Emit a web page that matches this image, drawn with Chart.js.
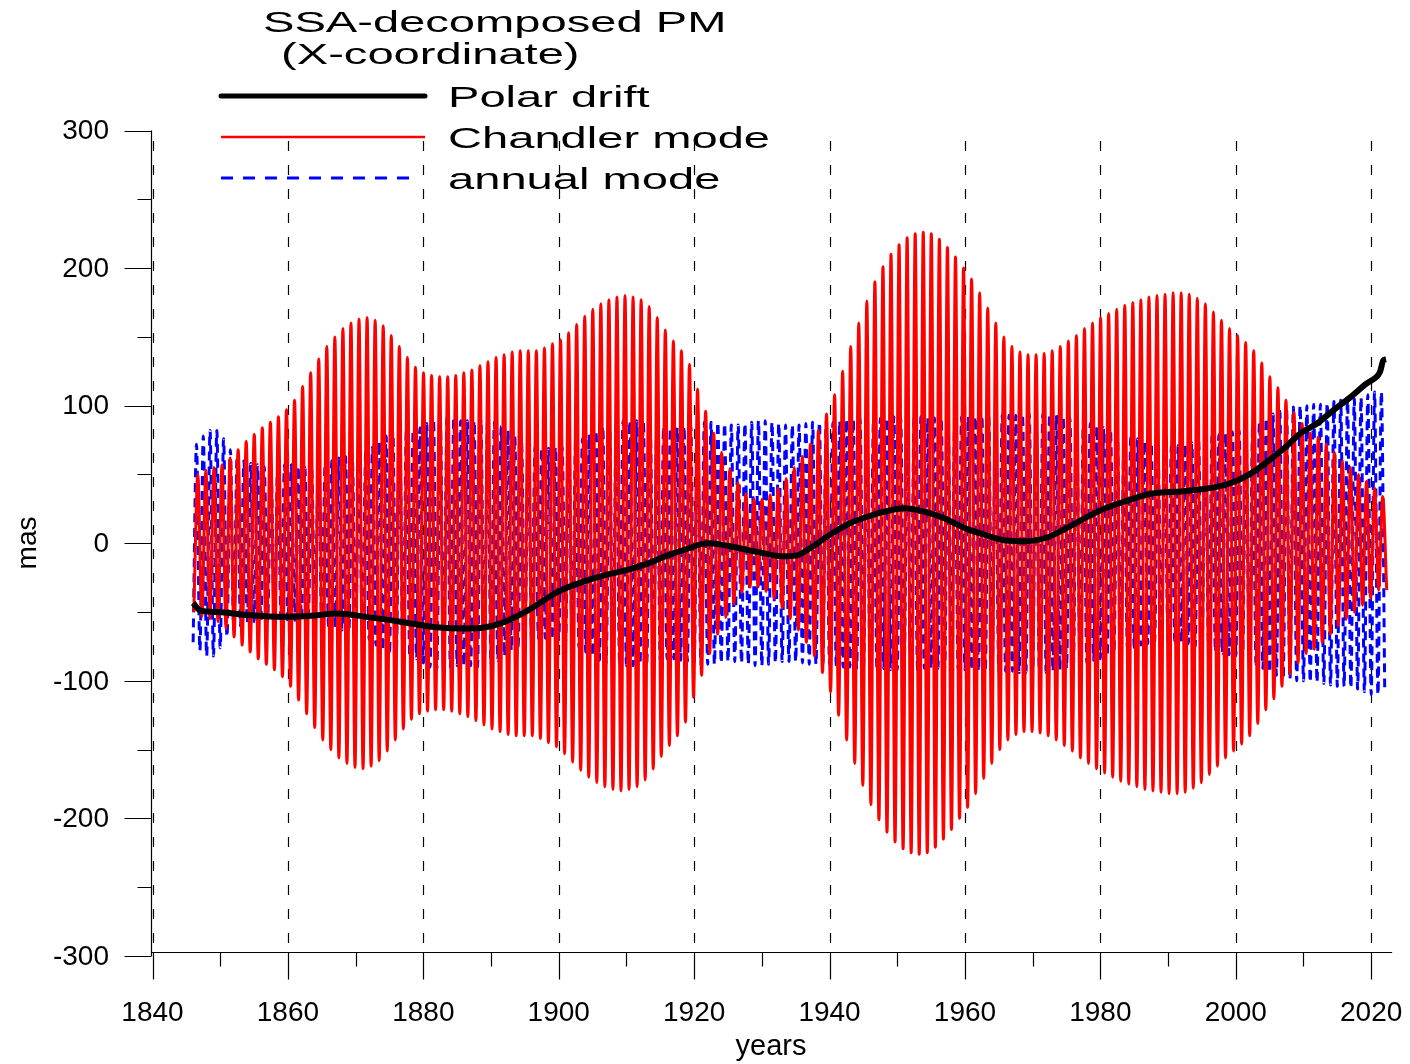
<!DOCTYPE html>
<html>
<head>
<meta charset="utf-8">
<script src="https://cdn.jsdelivr.net/npm/chart.js@4.4.1/dist/chart.umd.min.js"></script>
<style>
  html, body { margin: 0; padding: 0; background: #fff; }
  canvas { display: block; }
</style>
</head>
<body>
<canvas id="pm" width="1410" height="1064"></canvas>
<script>
// ── Eixos ────────────────────────────────────────────────────
const xTicks      = [1840, 1860, 1880, 1900, 1920, 1940, 1960, 1980, 2000, 2020];
const xMinorTicks = [1850, 1870, 1890, 1910, 1930, 1950, 1970, 1990, 2010];
const yTicks      = [-300, -200, -100, 0, 100, 200, 300];
const yMinorTicks = [-250, -150, -50, 50, 150, 250];

const titleLines = ['SSA-decomposed PM', ' (X-coordinate)'];

// ── Polar drift (anos, mas) ──────────────────────────────────
const driftYears = [1846.0, 1847.0, 1849.5, 1854.4, 1859.3, 1864.3, 1867.2, 1871.6, 1876.6, 1881.5,
                    1886.4, 1888.9, 1891.3, 1895.0, 1900.0, 1903.0, 1907.0, 1910.0, 1913.0, 1916.0,
                    1919.0, 1922.0, 1924.0, 1927.0, 1930.0, 1933.0, 1935.0, 1937.0, 1940.0, 1943.0,
                    1946.0, 1949.0, 1951.0, 1954.0, 1957.0, 1960.0, 1963.0, 1966.0, 1969.0, 1972.0,
                    1975.0, 1978.0, 1981.0, 1984.0, 1987.4, 1992.3, 1997.2, 1999.7, 2002.2, 2004.6,
                    2007.1, 2009.5, 2012.0, 2014.4, 2016.9, 2019.3, 2020.8, 2021.3, 2021.8, 2022.2];
const driftMas   = [-43.4, -48.7, -50.0, -52.3, -53.5, -52.3, -51.0, -53.5, -57.0, -60.8,
                    -62.0, -61.3, -58.4, -50.0, -35.0, -29.0, -23.0, -19.6, -15.0, -9.0,
                    -4.0, 0.0, -1.0, -4.0, -7.0, -9.5, -9.0, -4.0, 6.0, 14.5,
                    20.0, 24.0, 25.4, 23.0, 18.0, 11.0, 6.0, 2.0, 1.5, 4.0,
                    11.0, 19.0, 26.0, 31.0, 36.0, 37.8, 41.0, 44.5, 50.6, 59.0,
                    68.8, 79.7, 87.0, 96.6, 106.0, 116.0, 121.0, 124.5, 133.0, 133.7];

// ── Chandler mode: amplitude (mas) de cada ciclo ─────────────
// primeiro mínimo em 1846.1, período ~1.19 ano
const chandlerStart  = 1846.1;
const chandlerPeriod = 1.1905;
const chandlerAmp = [
   50,  53,  55,  57,  62,  68,  74,  79,  84,  88,
   92,  97, 104, 114, 124, 134, 143, 150, 156, 160,
  163, 164, 162, 158, 151, 143, 135, 128, 124, 122,
  121, 121, 122, 124, 126, 129, 132, 135, 137, 139,
  140, 140, 140, 142, 145, 148, 153, 159, 165, 170,
  174, 177, 179, 180, 179, 177, 172, 164, 155, 147,
  140, 130, 112,  96,  80,  66,  54,  44,  36,  32,
   32,  35,  40,  47,  55,  63,  72,  82,  94, 108,
  125, 143, 160, 176, 190, 201, 210, 217, 222, 225,
  226, 225, 221, 215, 208, 200, 192, 182, 171, 160,
  150, 143, 139, 137, 137, 138, 140, 143, 147, 151,
  156, 160, 164, 167, 170, 173, 175, 177, 179, 180,
  181, 182, 182, 181, 178, 174, 168, 162, 156, 151,
  146, 140, 131, 121, 113, 104,  95,  87,  80,  77,
   72,  66,  60,  55,  50,  45,  40,  34,  34
];

// ── annual mode: amplitude (mas) por ano, 1846–2022 ──────────
const annualStart  = 1846.0;
const annualPeriod = 1.0;
const annualAmp = [
   72,  78,  82,  82,  76,  68,  63,  60,  58,  57,
   56,  56,  56,  57,  57,  56,  55,  54,  55,  57,
   60,  62,  63,  64,  65,  67,  70,  74,  78,  81,
   82,  82,  82,  84,  87,  90,  91,  91,  90,  89,
   89,  89,  90,  90,  88,  85,  82,  78,  75,  72,
   70,  69,  69,  70,  70,  72,  74,  76,  79,  82,
   85,  87,  88,  89,  89,  89,  88,  87,  86,  85,
   84,  84,  85,  86,  87,  88,  88,  88,  87,  86,
   86,  87,  88,  89,  89,  88,  87,  86,  86,  86,
   87,  88,  88,  88,  88,  89,  90,  90,  91,  91,
   91,  91,  91,  92,  92,  92,  92,  92,  91,  91,
   91,  91,  91,  92,  92,  92,  93,  93,  93,  93,
   93,  93,  94,  94,  94,  94,  94,  93,  92,  91,
   90,  89,  87,  85,  84,  82,  80,  78,  77,  76,
   74,  73,  72,  71,  71,  71,  72,  73,  75,  77,
   78,  79,  80,  81,  82,  83,  85,  88,  91,  94,
   96,  98,  99, 100, 100, 101, 101, 102, 103, 104,
  104, 105, 106, 108, 110, 110, 106
];

// mínimos e máximos alternados: dois extremos por ciclo
function extremos(start, period, amps, count) {
  const pts = [];
  for (let j = 0; j < count; j++) {
    const a = amps[Math.min(Math.floor(j / 2), amps.length - 1)];
    pts.push({ x: start + j * period / 2, y: j % 2 === 0 ? -a : a });
  }
  return pts;
}

const chandlerPts = extremos(chandlerStart, chandlerPeriod, chandlerAmp, chandlerAmp.length * 2 - 1);
const annualPts   = extremos(annualStart, annualPeriod, annualAmp, annualAmp.length * 2 - 1);
const driftPts    = driftYears.map((x, i) => ({ x, y: driftMas[i] }));

const FONT = '"Liberation Sans", Arial, sans-serif';
const STRETCH = 1.57;   // texto do título/legenda é largo

function textoLargo(ctx, txt, x, y, size) {
  ctx.save();
  ctx.translate(x, y);
  ctx.scale(STRETCH, 1);
  ctx.font = size + 'px ' + FONT;
  ctx.fillStyle = '#000';
  ctx.textBaseline = 'alphabetic';
  ctx.textAlign = 'left';
  ctx.fillText(txt, 0, 0);
  ctx.restore();
}

// título, legenda e grade tracejada (atrás das séries)
const fundoPlugin = {
  id: 'fundo',
  beforeDraw(chart) {
    const { ctx } = chart;
    ctx.save();
    ctx.fillStyle = '#fff';
    ctx.fillRect(0, 0, chart.width, chart.height);
    ctx.restore();
  },
  beforeDatasetsDraw(chart) {
    const { ctx, scales: { x, y } } = chart;
    const base = y.getPixelForValue(-300) - 3.5;

    textoLargo(ctx, titleLines[0], 263, 32, 30);
    textoLargo(ctx, titleLines[1], 268, 64, 30);

    const legendY = [96, 137, 178];
    const legendTxtY = [107, 148, 189];
    chart.data.datasets.forEach((ds, i) => {
      ctx.save();
      ctx.strokeStyle = ds.borderColor;
      ctx.lineWidth = ds.legendWidth;
      ctx.lineCap = i === 0 ? 'round' : 'butt';
      ctx.setLineDash(ds.borderDash ? [12, 10] : []);
      ctx.beginPath();
      ctx.moveTo(221, legendY[i]);
      ctx.lineTo(i === 2 ? 416 : 425, legendY[i]);
      ctx.stroke();
      ctx.restore();
      textoLargo(ctx, ds.label, 448, legendTxtY[i], 30);
    });

    ctx.save();
    ctx.strokeStyle = '#000';
    ctx.lineWidth = 1.2;
    ctx.setLineDash([10, 14]);
    xTicks.forEach(v => {
      const px = Math.round(x.getPixelForValue(v)) + 0.5;
      ctx.beginPath();
      ctx.moveTo(px, 141);
      ctx.lineTo(px, base);
      ctx.stroke();
    });
    ctx.restore();
  },
  // eixos, marcas e rótulos
  afterDatasetsDraw(chart) {
    const { ctx, scales: { x, y } } = chart;
    const axisX = Math.round(x.getPixelForValue(1840)) - 1.5;
    const base  = Math.round(y.getPixelForValue(-300)) - 3.5;
    const right = x.getPixelForValue(2023.1);

    ctx.save();
    ctx.strokeStyle = '#000';
    ctx.lineWidth = 1.2;
    ctx.beginPath();
    ctx.moveTo(axisX, y.getPixelForValue(300));
    ctx.lineTo(axisX, y.getPixelForValue(-300));
    ctx.moveTo(axisX, base);
    ctx.lineTo(right, base);
    yTicks.forEach(v => {
      const py = Math.round(y.getPixelForValue(v)) + 0.5;
      ctx.moveTo(axisX - 27, py);
      ctx.lineTo(axisX, py);
    });
    yMinorTicks.forEach(v => {
      const py = Math.round(y.getPixelForValue(v)) + 0.5;
      ctx.moveTo(axisX - 14, py);
      ctx.lineTo(axisX, py);
    });
    xTicks.forEach(v => {
      const px = Math.round(x.getPixelForValue(v)) + 0.5;
      ctx.moveTo(px, base);
      ctx.lineTo(px, base + 27);
    });
    xMinorTicks.forEach(v => {
      const px = Math.round(x.getPixelForValue(v)) + 0.5;
      ctx.moveTo(px, base);
      ctx.lineTo(px, base + 14);
    });
    ctx.stroke();

    ctx.fillStyle = '#000';
    ctx.font = '28px ' + FONT;
    ctx.textAlign = 'center';
    ctx.textBaseline = 'alphabetic';
    xTicks.forEach(v => ctx.fillText(String(v), x.getPixelForValue(v), 1021));

    ctx.textAlign = 'right';
    ctx.textBaseline = 'middle';
    yTicks.forEach(v => ctx.fillText(String(v), 109, y.getPixelForValue(v) + 1));

    ctx.font = '29px ' + FONT;
    ctx.textAlign = 'center';
    ctx.textBaseline = 'alphabetic';
    ctx.fillText('years', 771, 1055);

    ctx.translate(36, 543);
    ctx.rotate(-Math.PI / 2);
    ctx.font = '28px ' + FONT;
    ctx.fillText('mas', 0, 0);
    ctx.restore();
  }
};

new Chart(document.getElementById('pm'), {
  type: 'line',
  data: {
    datasets: [
      { label: 'Polar drift', data: driftPts, borderColor: '#000', borderWidth: 6, legendWidth: 5,
        cubicInterpolationMode: 'monotone', pointRadius: 0 },
      { label: 'Chandler mode', data: chandlerPts, borderColor: '#ff0000', borderWidth: 3, legendWidth: 2.5,
        cubicInterpolationMode: 'monotone', pointRadius: 0 },
      { label: 'annual mode', data: annualPts, borderColor: '#0000ff', borderWidth: 3, legendWidth: 3,
        borderDash: [9, 6], cubicInterpolationMode: 'monotone', pointRadius: 0 }
    ]
  },
  options: {
    responsive: false,
    devicePixelRatio: 1,
    animation: false,
    parsing: false,
    normalized: true,
    layout: { padding: { left: 152.5, right: 18.5, top: 130.5, bottom: 108 } },
    scales: {
      x: { type: 'linear', min: 1840, max: 2023, display: false },
      y: { type: 'linear', min: -300, max: 300, display: false }
    },
    plugins: { legend: { display: false }, tooltip: { enabled: false } }
  },
  plugins: [fundoPlugin]
});
</script>
</body>
</html>
